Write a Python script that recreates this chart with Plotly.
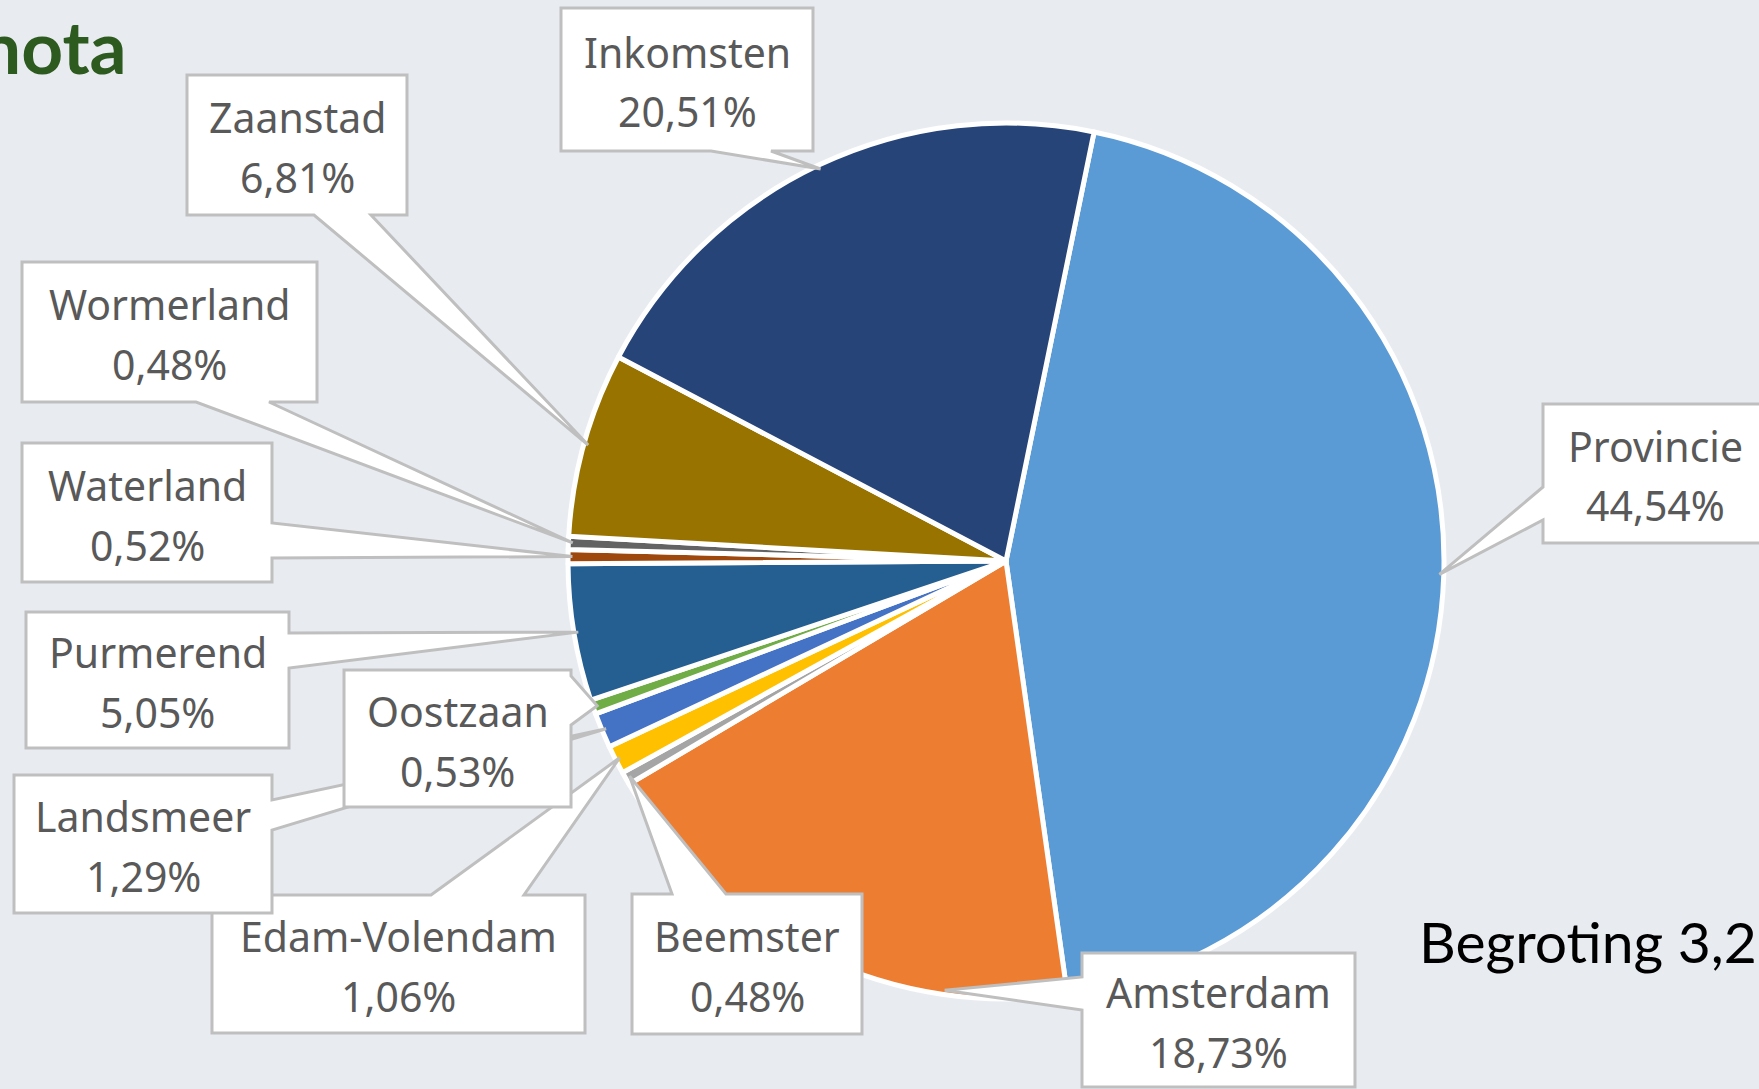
import math
import plotly.graph_objects as go

W, H = 1759, 1089

# ---- data ----
categories = ["Provincie", "Amsterdam", "Beemster", "Edam-Volendam", "Landsmeer",
              "Oostzaan", "Purmerend", "Waterland", "Wormerland", "Zaanstad", "Inkomsten"]
shares = [44.54, 18.73, 0.48, 1.06, 1.29, 0.53, 5.05, 0.52, 0.48, 6.81, 20.51]
colors = ["#5B9BD5", "#ED7D31", "#A5A5A5", "#FFC000", "#4472C4", "#70AD47",
          "#255E91", "#9E480E", "#636363", "#997300", "#264478"]

# ---- layout / geometry (pixels) ----
PIE_CX, PIE_CY, PIE_R = 1006, 561, 438
ROTATION = 11.6
BG = "#E8EBF0"
LABEL_COLOR = "#595959"
BOX_LINE = "#BFBFBF"

# callout boxes: (x0, y0, x1, y1), edge with wedge, wedge base along that edge, tip position within slice
callouts = {
    "Provincie":     dict(box=(1543, 404, 1768, 543), edge="left",   base=(487, 520), frac=0.5),
    "Amsterdam":     dict(box=(1082, 953, 1355, 1087), edge="left",  base=(977, 1010), frac=0.24),
    "Beemster":      dict(box=(632, 894, 862, 1034), edge="top",     base=(672, 726), frac=0.5),
    "Edam-Volendam": dict(box=(212, 895, 585, 1033), edge="top",     base=(431, 524), frac=0.5),
    "Landsmeer":     dict(box=(14, 775, 272, 913), edge="right",     base=(800, 830), frac=0.5),
    "Oostzaan":      dict(box=(344, 670, 571, 807), edge="right",    base=(676, 725), frac=0.5),
    "Purmerend":     dict(box=(26, 612, 289, 748), edge="right",     base=(633, 668), frac=0.5),
    "Waterland":     dict(box=(22, 443, 272, 582), edge="right",     base=(523, 558), frac=0.5),
    "Wormerland":    dict(box=(22, 262, 317, 402), edge="bottom",    base=(196, 269), frac=0.5),
    "Zaanstad":      dict(box=(187, 75, 407, 215), edge="bottom",    base=(314, 371), frac=0.5),
    "Inkomsten":     dict(box=(561, 8, 813, 151), edge="bottom",     base=(711, 771), frac=0.5),
}


def px(x):
    return x / W


def py(y):
    return 1 - y / H


fig = go.Figure()
fig.add_trace(go.Pie(
    labels=categories, values=shares, sort=False, direction="clockwise",
    rotation=ROTATION, textinfo="none", hoverinfo="label+percent",
    marker=dict(colors=colors, line=dict(color="white", width=5)),
    domain=dict(x=[px(PIE_CX - PIE_R), px(PIE_CX + PIE_R)],
                y=[py(PIE_CY + PIE_R), py(PIE_CY - PIE_R)]),
    showlegend=False,
))

total = sum(shares)
cum = 0.0
shapes = []
annotations = []
for name, val in zip(categories, shares):
    start = ROTATION + 360 * cum / total
    end = ROTATION + 360 * (cum + val) / total
    cum += val
    c = callouts[name]
    theta = math.radians(start + c["frac"] * (end - start))
    rt = 0.99 * PIE_R
    tip = (PIE_CX + rt * math.sin(theta), PIE_CY - rt * math.cos(theta))
    x0, y0, x1, y1 = c["box"]
    a, b = sorted(c["base"])
    e = c["edge"]
    pts = [(x0, y0)]
    if e == "top":
        pts += [(a, y0), tip, (b, y0)]
    pts.append((x1, y0))
    if e == "right":
        pts += [(x1, a), tip, (x1, b)]
    pts.append((x1, y1))
    if e == "bottom":
        pts += [(b, y1), tip, (a, y1)]
    pts.append((x0, y1))
    if e == "left":
        pts += [(x0, b), tip, (x0, a)]
    path = "M " + " L ".join(f"{px(x):.5f},{py(y):.5f}" for x, y in pts) + " Z"
    shapes.append(dict(type="path", xref="paper", yref="paper", path=path,
                       fillcolor="white", line=dict(color=BOX_LINE, width=3), layer="above"))
    bcx = (x0 + x1) / 2
    bcy = (y0 + y1) / 2
    pct = f"{val:.2f}".replace(".", ",") + "%"
    for txt, yy in ((name, bcy - 28), (pct, bcy + 32)):
        annotations.append(dict(text=txt, x=px(bcx), y=py(yy), xref="paper", yref="paper",
                                xanchor="center", yanchor="middle", showarrow=False,
                                font=dict(family="Noto Sans", size=41, color=LABEL_COLOR)))

annotations.append(dict(text="<b>nota</b>", x=px(-22), y=py(46), xref="paper", yref="paper",
                        xanchor="left", yanchor="middle", showarrow=False,
                        font=dict(family="Lato", size=73, color="#2D5A1E")))
annotations.append(dict(text="Begroting 3,2", x=px(1417), y=py(941), xref="paper", yref="paper",
                        xanchor="left", yanchor="middle", showarrow=False,
                        font=dict(family="Lato", size=57, color="#000000")))

fig.update_layout(
    width=W, height=H, margin=dict(l=0, r=0, t=0, b=0),
    paper_bgcolor=BG, plot_bgcolor=BG,
    shapes=shapes, annotations=annotations,
)

fig.write_html("out.html", config={"displayModeBar": False},
               post_script="document.body.style.margin='0';document.body.style.overflow='hidden';")
